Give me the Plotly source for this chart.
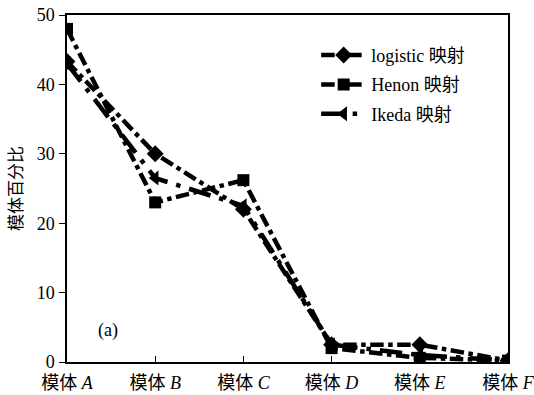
import plotly.graph_objects as go

# Motif categories and percentage of each motif under three chaotic maps
categories = ["模体 <i>A</i>", "模体 <i>B</i>", "模体 <i>C</i>", "模体 <i>D</i>", "模体 <i>E</i>", "模体 <i>F</i>"]
logistic_vals = [43.3, 30.0, 22.0, 2.5, 2.5, 0.2]
henon_vals = [48.0, 23.0, 26.2, 2.0, 0.6, 0.2]
ikeda_vals = [43.0, 26.5, 22.5, 2.5, 1.0, 0.2]
y_ticks = [0, 10, 20, 30, 40, 50]

serif = "Liberation Serif, Times New Roman, Noto Sans CJK SC, serif"

fig = go.Figure()
series = [
    ("logistic 映射", logistic_vals, "diamond", "dashdot", 13),
    ("Henon 映射", henon_vals, "square", "dashdot", 12),
    ("Ikeda 映射", ikeda_vals, "triangle-left", "longdashdot", 13),
]
for i, (name, vals, sym, dash, size) in enumerate(series):
    fig.add_trace(go.Scatter(
        x=list(range(len(categories))), y=vals, name=name,
        mode="lines+markers", legendgroup=f"g{i}",
        line=dict(color="black", width=4.5, dash=dash),
        marker=dict(symbol=sym, size=size, color="black"),
    ))

fig.add_annotation(x=0.47, y=4.6, xref="x", yref="y", text="(a)", showarrow=False,
                   font=dict(family=serif, size=18, color="black"))

fig.update_layout(
    width=534, height=395,
    margin=dict(l=67, r=26, t=15, b=33),
    plot_bgcolor="white", paper_bgcolor="white",
    font=dict(family=serif, size=18, color="black"),
    legend=dict(x=0.565, y=0.937, xanchor="left", yanchor="top",
                bgcolor="rgba(0,0,0,0)", tracegroupgap=3, itemwidth=45,
                font=dict(family=serif, size=18)),
    xaxis=dict(range=[0, 5], tickvals=list(range(len(categories))), ticktext=categories,
               showgrid=False, zeroline=False, showline=True, linecolor="black",
               linewidth=1.5, mirror=True, ticks="inside", ticklen=6, tickcolor="black",
               automargin=False, tickfont=dict(size=18), ticklabeloverflow="allow",
               ticklabelstandoff=4),
    yaxis=dict(range=[0, 50], tickvals=y_ticks, showgrid=False, zeroline=False,
               showline=True, linecolor="black", linewidth=1.5, mirror=True,
               ticks="outside", ticklen=6, tickcolor="black", automargin=False,
               tickfont=dict(size=18), ticklabelstandoff=1,
               title=dict(text="模体百分比", standoff=10,
                          font=dict(family="Noto Sans CJK SC, sans-serif", size=17))),
)

fig.write_html("out.html")
